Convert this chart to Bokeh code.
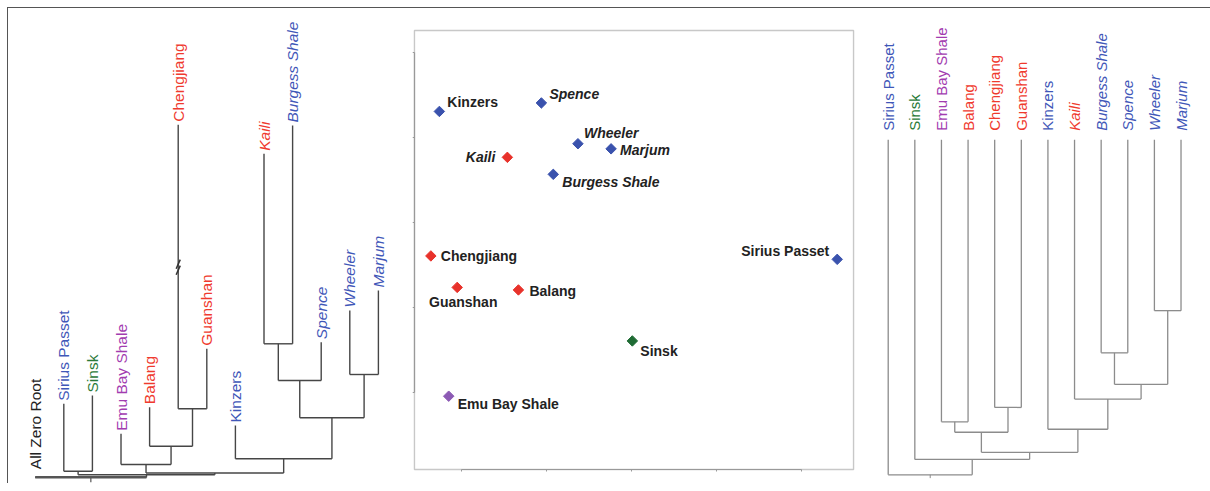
import math
from bokeh.plotting import figure
from bokeh.layouts import row
from bokeh.models import Range1d, ColumnDataSource, FixedTicker, CustomJSTickFormatter, LinearAxis
from bokeh.core.properties import value
from bokeh.embed import file_html
from bokeh.resources import INLINE

FONT = "Liberation Sans"

# ---------------- data ----------------
# Left: phylogram (tip order, tip heights, internal nodes with heights)
tips_left = ["All Zero Root", "Sirius Passet", "Sinsk", "Emu Bay Shale", "Balang",
             "Chengjiang", "Guanshan", "Kinzers", "Kaili", "Burgess Shale",
             "Spence", "Wheeler", "Marjum"]
tip_height_left = [0.0, 7.34, 8.17, 4.34, 7.0, 35.24, 12.84, 5.17, 32.34, 35.17,
                   13.5, 16.67, 18.67]
node_names_left = ["n1", "n2", "n3", "n4", "n5", "n6", "n7", "n8", "n9", "n10", "n11", "root"]
node_a_left = ["Sirius Passet", "Chengjiang", "Balang", "Emu Bay Shale", "Kaili", "n5",
               "Wheeler", "n6", "Kinzers", "n4", "n1", "All Zero Root"]
node_b_left = ["Sinsk", "Guanshan", "n2", "n3", "Burgess Shale", "Spence",
               "Marjum", "n7", "n8", "n9", "n10", "n11"]
node_height_left = [0.60, 6.84, 3.10, 1.27, 13.34, 9.67, 10.27, 5.94, 1.84, 0.42, 0.24, 0.0]
chengjiang_break = 21.0

# Middle: ordination scores
sites = ["Kinzers", "Spence", "Wheeler", "Marjum", "Kaili", "Burgess Shale",
         "Chengjiang", "Sirius Passet", "Guanshan", "Balang", "Sinsk", "Emu Bay Shale"]
axis1 = [-2.26, -1.06, -0.63, -0.24, -1.46, -0.92, -2.36, 2.42, -2.05, -1.33, 0.01, -2.15]
axis2 = [1.31, 1.41, 0.93, 0.87, 0.77, 0.57, -0.39, -0.43, -0.76, -0.79, -1.39, -2.04]
scatter_ticks = [-2, -1, 0, 1, 2]
scatter_box_x = (-2.553, 2.612)
scatter_box_y = (-2.902, 2.262)

# Right: dendrogram (tips at distance 0, merge distances)
tips_right = ["Sirius Passet", "Sinsk", "Emu Bay Shale", "Balang", "Chengjiang", "Guanshan",
              "Kinzers", "Kaili", "Burgess Shale", "Spence", "Wheeler", "Marjum"]
node_names_right = ["m1", "m2", "m3", "m4", "m5", "m6", "m7", "m8", "m9", "m10", "m11"]
node_a_right = ["Wheeler", "Burgess Shale", "m2", "Kaili", "Kinzers", "Chengjiang",
                "Emu Bay Shale", "m7", "m8", "Sinsk", "Sirius Passet"]
node_b_right = ["Marjum", "Spence", "m1", "m3", "m4", "Guanshan", "Balang", "m6",
                "m5", "m9", "m10"]
node_height_right = [0.51, 0.636, 0.73, 0.774, 0.864, 0.799, 0.842, 0.873, 0.933, 0.954, 1.0]

# groups
blue_sites = ["Sirius Passet", "Kinzers", "Burgess Shale", "Spence", "Wheeler", "Marjum"]
red_sites = ["Chengjiang", "Guanshan", "Balang", "Kaili"]
green_sites = ["Sinsk"]
purple_sites = ["Emu Bay Shale"]
italic_sites = ["Kaili", "Burgess Shale", "Spence", "Wheeler", "Marjum"]

# ---------------- styles ----------------
label_col = {}
mark_col = {}
for s in blue_sites:
    label_col[s] = "#3f57b8"; mark_col[s] = "#3a52ad"
for s in red_sites:
    label_col[s] = "#ef3a2e"; mark_col[s] = "#e8322b"
for s in green_sites:
    label_col[s] = "#2a7a38"; mark_col[s] = "#1f6b34"
for s in purple_sites:
    label_col[s] = "#a23cb0"; mark_col[s] = "#8c5ab4"
label_col["All Zero Root"] = "#222222"


def style_of(s):
    return "italic" if s in italic_sites else "normal"


def tree_segments(tips, tip_x, tip_h, names, a, b, h):
    pos = {t: (tip_x[i], tip_h[i]) for i, t in enumerate(tips)}
    x0, y0, x1, y1 = [], [], [], []
    for n, ca, cb, nh in zip(names, a, b, h):
        xa, ya = pos[ca]
        xb, yb = pos[cb]
        x0 += [xa, xa, xb]; x1 += [xb, xa, xb]
        y0 += [nh, ya, yb]; y1 += [nh, nh, nh]
        pos[n] = ((xa + xb) / 2.0, nh)
    return dict(x0=x0, y0=y0, x1=x1, y1=y1), pos


def bare(p):
    p.xaxis.visible = False
    p.yaxis.visible = False
    p.xgrid.visible = False
    p.ygrid.visible = False
    p.outline_line_color = None
    p.background_fill_color = None
    p.border_fill_color = None


H = 475

# ---------------- left phylogram ----------------
WL = 396
pl = figure(width=WL, height=H, output_backend="svg", toolbar_location=None,
            x_range=Range1d(-0.934, (WL - 26.7) / 28.6),
            y_range=Range1d(-0.63, 46.87),
            min_border=0, min_border_left=0, min_border_right=0,
            min_border_top=0, min_border_bottom=0)
bare(pl)
xl = list(range(len(tips_left)))
segL, posL = tree_segments(tips_left, xl, tip_height_left, node_names_left,
                           node_a_left, node_b_left, node_height_left)
pl.segment("x0", "y0", "x1", "y1", source=ColumnDataSource(segL),
           line_color="#464646", line_width=1.4)
rx, rh = posL["root"]
ax, ah = posL["All Zero Root"]
n11x, _ = posL["n11"]
pl.segment(x0=[ax], y0=[rh], x1=[n11x], y1=[rh], line_color="#555555", line_width=2.6)
pl.segment(x0=[rx], y0=[rh], x1=[rx], y1=[rh - 0.5], line_color="#555555", line_width=1.2)
ci = tips_left.index("Chengjiang")
pl.scatter(x=[xl[ci], xl[ci]], y=[chengjiang_break + 0.3, chengjiang_break - 0.3],
           marker="dash", size=10, angle=1.15, line_color="#333333", line_width=1.5)

srcL = ColumnDataSource(dict(
    x=xl, y=tip_height_left, t=tips_left,
    c=[label_col[t] for t in tips_left],
    st=[style_of(t) for t in tips_left],
    yo=[-8 if t == "All Zero Root" else -3 for t in tips_left],
))
pl.text("x", "y", text="t", source=srcL, angle=math.pi / 2, text_align="left",
        text_baseline="middle", y_offset="yo", text_color="c", text_font_style="st",
        text_font=value(FONT), text_font_size="15.5px")

# ---------------- middle ordination ----------------
WS = 454
ps = figure(width=WS, height=H, output_backend="svg", toolbar_location=None,
            x_range=Range1d(-2.576, 2.635), y_range=Range1d(-3.067, 2.521),
            x_axis_location=None, y_axis_location=None,
            min_border_left=8, min_border_right=3, min_border_top=0, min_border_bottom=0)
ps.xgrid.visible = False
ps.ygrid.visible = False
ps.background_fill_color = None
ps.border_fill_color = None
ps.outline_line_color = None
ps.quad(left=[scatter_box_x[0]], right=[scatter_box_x[1]],
        bottom=[scatter_box_y[0]], top=[scatter_box_y[1]],
        fill_color=None, line_color="#c8c8c8", line_width=1.4)
xa_ = LinearAxis(fixed_location=scatter_box_y[0])
ya_ = LinearAxis(fixed_location=scatter_box_x[0])
ps.add_layout(xa_, "below")
ps.add_layout(ya_, "left")
for ax_ in (xa_, ya_):
    ax_.ticker = FixedTicker(ticks=scatter_ticks)
    ax_.bounds = (scatter_ticks[0], scatter_ticks[-1])
    ax_.formatter = CustomJSTickFormatter(code="return ''")
    ax_.major_label_standoff = 0
    ax_.major_tick_in = 0
    ax_.major_tick_out = 2
    ax_.minor_tick_in = 0
    ax_.minor_tick_out = 0
    ax_.axis_line_color = "#999999"
    ax_.major_tick_line_color = "#999999"
    ax_.axis_line_width = 1.2

ps.scatter(x=axis1, y=axis2, marker="square", angle=math.pi / 4, size=7.4,
           fill_color=[mark_col[s] for s in sites], line_color=[mark_col[s] for s in sites])

lab_place = {
    "Kinzers": (8, -9, "left"), "Spence": (8, -9, "left"), "Wheeler": (6, -11, "left"),
    "Marjum": (9, 1, "left"), "Kaili": (-12, 0, "right"), "Burgess Shale": (9, 8, "left"),
    "Chengjiang": (10, 0, "left"), "Sirius Passet": (-8, -8, "right"),
    "Guanshan": (6, 15, "center"), "Balang": (11, 1, "left"), "Sinsk": (8, 10, "left"),
    "Emu Bay Shale": (9, 8, "left"),
}
srcS = ColumnDataSource(dict(
    x=axis1, y=axis2, t=sites,
    xo=[lab_place[s][0] for s in sites], yo=[lab_place[s][1] for s in sites],
    al=[lab_place[s][2] for s in sites],
    st=["bold italic" if s in italic_sites else "bold" for s in sites],
))
ps.text("x", "y", text="t", source=srcS, x_offset="xo", y_offset="yo", text_align="al",
        text_baseline="middle", text_color="#222222", text_font_style="st",
        text_font=value(FONT), text_font_size="14px")

# ---------------- right dendrogram ----------------
WR = 352
pr = figure(width=WR, height=H, output_backend="svg", toolbar_location=None,
            x_range=Range1d(-1.116, (WR - 29.7) / 26.62),
            y_range=Range1d(1.026, -0.392),
            min_border=0, min_border_left=0, min_border_right=0,
            min_border_top=0, min_border_bottom=0)
bare(pr)
xr = list(range(len(tips_right)))
hr = [0.0] * len(tips_right)
segR, posR = tree_segments(tips_right, xr, hr, node_names_right,
                           node_a_right, node_b_right, node_height_right)
pr.segment("x0", "y0", "x1", "y1", source=ColumnDataSource(segR),
           line_color="#8c8c8c", line_width=1.3)
rrx, rrh = posR["m11"]
pr.segment(x0=[rrx], y0=[rrh], x1=[rrx], y1=[rrh + 0.01], line_color="#8c8c8c", line_width=1.0)
srcR = ColumnDataSource(dict(
    x=xr, y=hr, t=tips_right,
    c=[label_col[t] for t in tips_right],
    st=[style_of(t) for t in tips_right],
))
pr.text("x", "y", text="t", source=srcR, angle=math.pi / 2, text_align="left",
        text_baseline="middle", y_offset=-9, text_color="c", text_font_style="st",
        text_font=value(FONT), text_font_size="15px")

layout = row(pl, ps, pr, styles={"border-top": "1.5px solid #555555",
                                 "border-left": "1.5px solid #555555",
                                 "margin-left": "7px", "margin-top": "7px"})

open("out.html", "w").write(file_html(layout, INLINE))
